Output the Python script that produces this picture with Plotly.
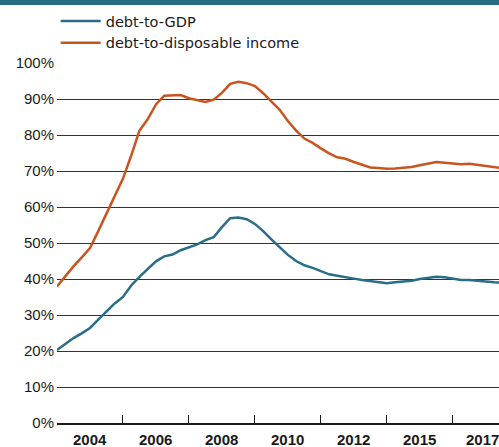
import plotly.graph_objects as go

# quarterly index (0 = first observation)
quarters = list(range(0, 55))

debt_to_income = [37.9, 40.8, 43.5, 46.0, 48.6, 53.3, 58.1, 63.2, 67.9, 74.3,
                  81.2, 84.4, 88.5, 90.9, 90.9, 91.1, 90.2, 89.8, 89.2, 89.8,
                  91.7, 94.2, 94.8, 94.4, 93.6, 91.6, 89.3, 87.0, 83.9, 81.2,
                  79.0, 77.8, 76.3, 74.9, 73.8, 73.4, 72.5, 71.7, 71.0, 70.8,
                  70.6, 70.7, 70.8, 71.1, 71.6, 72.1, 72.5, 72.3, 72.1, 71.9,
                  72.0, 71.7, 71.3, 71.0, 70.8]

debt_to_gdp = [20.3, 22.0, 23.6, 24.9, 26.4, 28.7, 31.0, 33.2, 35.0, 38.2,
               40.6, 42.8, 44.9, 46.3, 46.8, 48.0, 48.9, 49.6, 50.8, 51.6,
               54.4, 56.9, 57.1, 56.6, 55.3, 53.3, 51.0, 48.9, 46.7, 45.0,
               43.8, 43.1, 42.1, 41.3, 40.9, 40.6, 40.1, 39.7, 39.4, 39.3,
               38.8, 39.1, 39.3, 39.5, 40.0, 40.4, 40.6, 40.5, 40.1, 39.7,
               39.7, 39.6, 39.3, 39.1, 39.0]

tick_bounds = [0, 8, 16, 24, 32, 40, 48]
label_pos = [4, 12, 20, 28, 36, 44, 51.6]
label_text = ["2004", "2006", "2008", "2010", "2012", "2015", "2017"]
y_ticks = [0, 10, 20, 30, 40, 50, 60, 70, 80, 90, 100]
y_text = [f"{v}%" for v in y_ticks]

TEAL = "#2a6d86"
ORANGE = "#c9541f"

fig = go.Figure()
fig.add_trace(go.Scatter(x=quarters, y=debt_to_gdp, mode="lines", name="debt-to-GDP",
                         line=dict(color=TEAL, width=2.5)))
fig.add_trace(go.Scatter(x=quarters, y=debt_to_income, mode="lines", name="debt-to-disposable income",
                         line=dict(color=ORANGE, width=2.5)))

annotations = [dict(x=p, y=0, xref="x", yref="y", text=t, showarrow=False,
                    yanchor="top", yshift=-6, xanchor="center",
                    font=dict(family="Liberation Sans", size=15, color="#1a1a1a", weight="bold"))
               for p, t in zip(label_pos, label_text)]

fig.update_layout(
    width=499, height=447,
    margin=dict(l=57, r=0, t=63, b=24, autoexpand=False),
    paper_bgcolor="white", plot_bgcolor="white",
    font=dict(family="Liberation Sans, Arial, sans-serif", color="#1a1a1a"),
    legend=dict(x=-0.003, y=1 + 58 / 360, xanchor="left", yanchor="top",
                font=dict(family="DejaVu Sans", size=14.5, color="#1a1a1a"),
                bgcolor="rgba(0,0,0,0)", tracegroupgap=0, itemwidth=40),
    shapes=[dict(type="rect", xref="paper", yref="paper", x0=-0.2, x1=1.1,
                 y0=1 + 58 / 360, y1=1 + 64 / 360, fillcolor="#296b85", line=dict(width=0),
                 layer="above")],
    annotations=annotations,
)

fig.update_xaxes(range=[0, 53.6], showgrid=False, zeroline=False,
                 showline=True, linecolor="#1a1a1a", linewidth=1.5,
                 tickmode="array", tickvals=tick_bounds, ticks="inside",
                 ticklen=8, tickcolor="#1a1a1a", tickwidth=1.2, showticklabels=False,
                 fixedrange=True)
fig.update_yaxes(range=[0, 100], tickmode="array", tickvals=y_ticks, ticktext=y_text,
                 showgrid=True, gridcolor="#333333", gridwidth=1.2, zeroline=False,
                 ticks="", tickfont=dict(family="Liberation Sans", size=15, color="#1a1a1a"),
                 ticklabelstandoff=2, fixedrange=True)

fig.write_html("out.html", config={"displayModeBar": False},
               post_script="document.body.style.margin='0';document.body.style.padding='0';")
